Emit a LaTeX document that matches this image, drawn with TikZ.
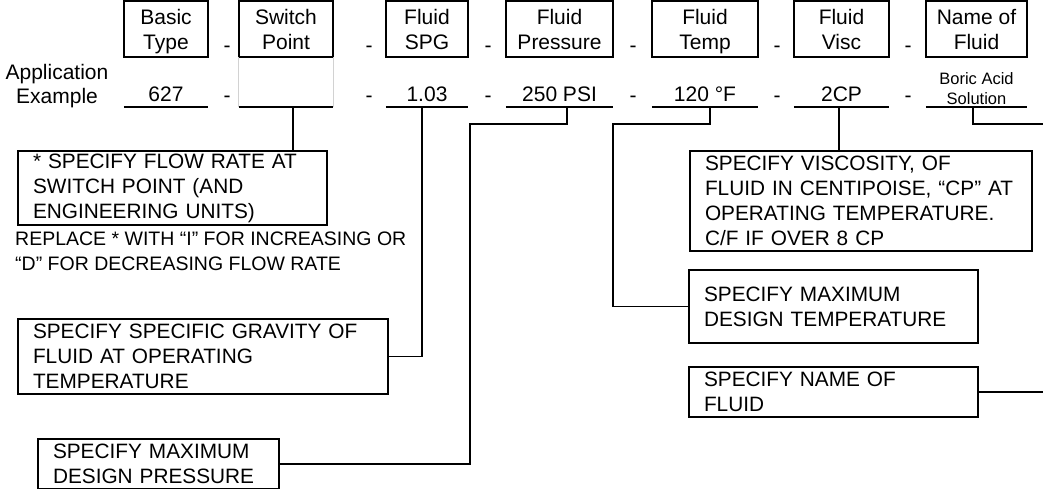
\documentclass[tikz,border=0pt]{standalone}
\usepackage{fontspec}
\setmainfont{Liberation Sans}

\begin{document}
\begin{tikzpicture}[
    x=1pt, y=-1pt,
    head/.style={rectangle, draw=black, line width=2pt, minimum height=56pt, inner sep=0pt, text height=44pt, text depth=3pt, align=center, font=\fontsize{21}{25}\selectfont},
    val/.style={anchor=south, inner xsep=0pt, inner ysep=5pt, align=center, font=\fontsize{21}{24}\selectfont},
    sep/.style={inner sep=0pt, font=\fontsize{21}{24}\selectfont},
    desc/.style={rectangle, draw=black, line width=2pt, anchor=north west, align=left, inner xsep=15pt, inner ysep=0pt, font=\fontsize{20.8}{25}\selectfont},
    uline/.style={line width=2pt},
    conn/.style={line width=1.5pt}
]
\useasboundingbox (0,0) rectangle (1043,489);
\clip (0,0) rectangle (1043,489);

% Header boxes
\node[head, minimum width=84pt]  (basic) at (166,29)   {Basic\\Type};
\node[head, minimum width=94pt]  (swp)   at (286,29)   {Switch\\Point};
\node[head, minimum width=82pt]  (spgh)  at (427,29)   {Fluid\\SPG};
\node[head, minimum width=107pt] (prsh)  at (559.5,29) {Fluid\\Pressure};
\node[head, minimum width=106pt] (tmph)  at (705,29)   {Fluid\\Temp};
\node[head, minimum width=95pt]  (visch) at (841.5,29) {Fluid\\Visc};
\node[head, minimum width=101pt] (nameh) at (976.5,29) {Name of\\Fluid};

\node[align=center, inner sep=0pt, font=\fontsize{21}{24}\selectfont] (app) at (57,86) {Application\\Example};

% Example values
\node[val, minimum width=84pt]  (v627)   at (166,107)   {627};
\node[minimum width=94pt, minimum height=50pt, inner sep=0pt] (vsw) at (286,82) {};
\node[val, minimum width=82pt]  (vspg)   at (427,107)   {1.03};
\node[val, minimum width=107pt] (vpress) at (559.5,107) {250 PSI};
\node[val, minimum width=106pt] (vtemp)  at (705,107)   {120 °F};
\node[val, minimum width=95pt]  (vvisc)  at (841.5,107) {2CP};
\node[val, minimum width=101pt, inner ysep=2pt, font=\fontsize{16.5}{20}\selectfont] (vname) at (976.5,107) {Boric Acid\\Solution};

\draw[gray!35, line width=1pt] (vsw.south west) -- (vsw.north west) (vsw.south east) -- (vsw.north east);
\foreach \v in {v627,vsw,vspg,vpress,vtemp,vvisc,vname}
    \draw[uline] (\v.south west) -- (\v.south east);

% Separators
\foreach \x [count=\i] in {227,369,488,633,777,908}{
    \node[sep] (dh\i) at (\x,49) {-};
    \node[sep] (dv\i) at (\x,99) {-};
}

% Description boxes
\node[desc, text width=279pt, minimum height=74pt] (flow)  at (17,150)  {* SPECIFY FLOW RATE AT\\SWITCH POINT (AND\\ENGINEERING UNITS)};
\node[anchor=north west, align=left, inner sep=0pt, font=\fontsize{19.5}{25}\selectfont] (note) at (15,232) {REPLACE * WITH “I” FOR INCREASING OR\\“D” FOR DECREASING FLOW RATE};
\node[desc, text width=340pt, minimum height=75pt]  (spg)   at (17,318)  {SPECIFY SPECIFIC GRAVITY OF\\FLUID AT OPERATING\\TEMPERATURE};
\node[desc, text width=211pt, minimum height=50pt]  (press) at (37,438)  {SPECIFY MAXIMUM\\DESIGN PRESSURE};
\node[desc, text width=312pt, minimum height=100pt] (visc)  at (689,150) {SPECIFY VISCOSITY, OF\\FLUID IN CENTIPOISE, “CP” AT\\OPERATING TEMPERATURE.\\C/F IF OVER 8 CP};
\node[desc, text width=259pt, minimum height=73pt]  (tmax)  at (688,269) {SPECIFY MAXIMUM\\DESIGN TEMPERATURE};
\node[desc, text width=259pt, minimum height=50pt]  (fname) at (688,366) {SPECIFY NAME OF\\FLUID};

% Connections
\coordinate (pbend) at (470,124);
\coordinate (tbend) at (613,124);
\coordinate (nbend) at (1050,124);

\draw[conn] ([xshift=7pt]vsw.south) -- ([xshift=7pt]vsw.south |- flow.north);
\draw[conn] ([xshift=-5pt]vspg.south) |- (spg.east);
\draw[conn] ([xshift=7.5pt]vpress.south) |- (pbend) |- (press.east);
\draw[conn] ([xshift=5pt]vtemp.south) |- (tbend) |- (tmax.west);
\draw[conn] ([xshift=-2.5pt]vvisc.south) -- ([xshift=-2.5pt]vvisc.south |- visc.north);
\draw[conn] ([xshift=-3.5pt]vname.south) |- (nbend) |- (fname.east);

\end{tikzpicture}
\end{document}
